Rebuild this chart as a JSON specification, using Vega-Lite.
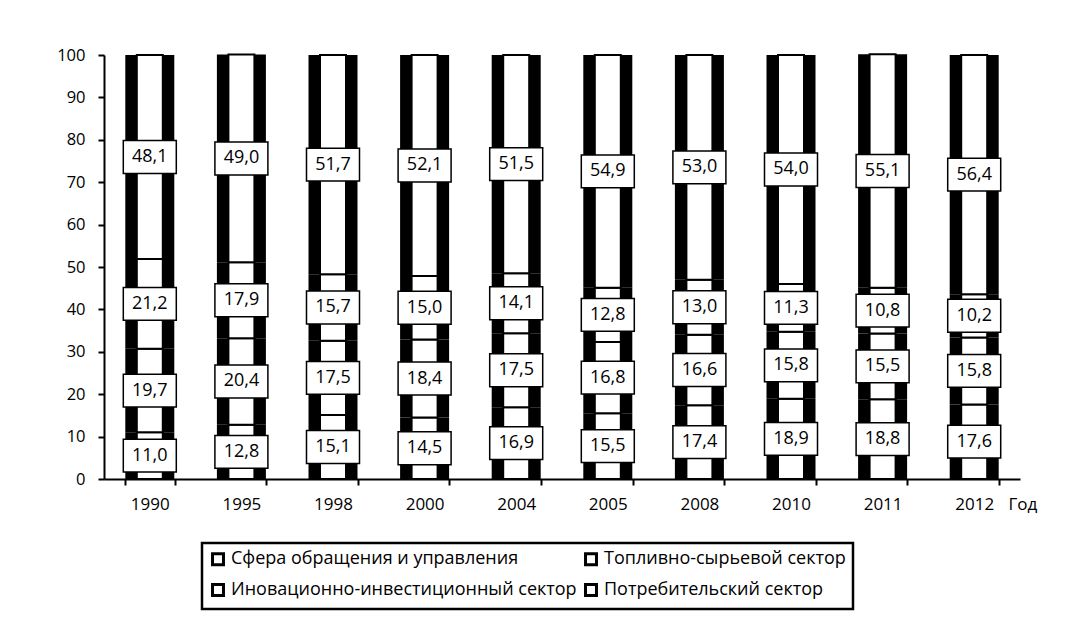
{
  "$schema": "https://vega.github.io/schema/vega-lite/v6.json",
  "width": 916,
  "height": 424,
  "autosize": {"type": "none"},
  "padding": {"left": 104, "top": 55, "right": 50, "bottom": 140},
  "background": "white",
  "config": {
    "font": "Open Sans",
    "view": {"stroke": null},
    "locale": {"number": {"decimal": ",", "thousands": " ", "grouping": [3], "currency": ["", ""]}}
  },
  "data": {
    "values": [
      {"year": "1990", "sector": "Потребительский сектор", "k": 1, "v": 11.0},
      {"year": "1990", "sector": "Иновационно-инвестиционный сектор", "k": 2, "v": 19.7},
      {"year": "1990", "sector": "Топливно-сырьевой сектор", "k": 3, "v": 21.2},
      {"year": "1990", "sector": "Сфера обращения и управления", "k": 4, "v": 48.1},
      {"year": "1995", "sector": "Потребительский сектор", "k": 1, "v": 12.8},
      {"year": "1995", "sector": "Иновационно-инвестиционный сектор", "k": 2, "v": 20.4},
      {"year": "1995", "sector": "Топливно-сырьевой сектор", "k": 3, "v": 17.9},
      {"year": "1995", "sector": "Сфера обращения и управления", "k": 4, "v": 49.0},
      {"year": "1998", "sector": "Потребительский сектор", "k": 1, "v": 15.1},
      {"year": "1998", "sector": "Иновационно-инвестиционный сектор", "k": 2, "v": 17.5},
      {"year": "1998", "sector": "Топливно-сырьевой сектор", "k": 3, "v": 15.7},
      {"year": "1998", "sector": "Сфера обращения и управления", "k": 4, "v": 51.7},
      {"year": "2000", "sector": "Потребительский сектор", "k": 1, "v": 14.5},
      {"year": "2000", "sector": "Иновационно-инвестиционный сектор", "k": 2, "v": 18.4},
      {"year": "2000", "sector": "Топливно-сырьевой сектор", "k": 3, "v": 15.0},
      {"year": "2000", "sector": "Сфера обращения и управления", "k": 4, "v": 52.1},
      {"year": "2004", "sector": "Потребительский сектор", "k": 1, "v": 16.9},
      {"year": "2004", "sector": "Иновационно-инвестиционный сектор", "k": 2, "v": 17.5},
      {"year": "2004", "sector": "Топливно-сырьевой сектор", "k": 3, "v": 14.1},
      {"year": "2004", "sector": "Сфера обращения и управления", "k": 4, "v": 51.5},
      {"year": "2005", "sector": "Потребительский сектор", "k": 1, "v": 15.5},
      {"year": "2005", "sector": "Иновационно-инвестиционный сектор", "k": 2, "v": 16.8},
      {"year": "2005", "sector": "Топливно-сырьевой сектор", "k": 3, "v": 12.8},
      {"year": "2005", "sector": "Сфера обращения и управления", "k": 4, "v": 54.9},
      {"year": "2008", "sector": "Потребительский сектор", "k": 1, "v": 17.4},
      {"year": "2008", "sector": "Иновационно-инвестиционный сектор", "k": 2, "v": 16.6},
      {"year": "2008", "sector": "Топливно-сырьевой сектор", "k": 3, "v": 13.0},
      {"year": "2008", "sector": "Сфера обращения и управления", "k": 4, "v": 53.0},
      {"year": "2010", "sector": "Потребительский сектор", "k": 1, "v": 18.9},
      {"year": "2010", "sector": "Иновационно-инвестиционный сектор", "k": 2, "v": 15.8},
      {"year": "2010", "sector": "Топливно-сырьевой сектор", "k": 3, "v": 11.3},
      {"year": "2010", "sector": "Сфера обращения и управления", "k": 4, "v": 54.0},
      {"year": "2011", "sector": "Потребительский сектор", "k": 1, "v": 18.8},
      {"year": "2011", "sector": "Иновационно-инвестиционный сектор", "k": 2, "v": 15.5},
      {"year": "2011", "sector": "Топливно-сырьевой сектор", "k": 3, "v": 10.8},
      {"year": "2011", "sector": "Сфера обращения и управления", "k": 4, "v": 55.1},
      {"year": "2012", "sector": "Потребительский сектор", "k": 1, "v": 17.6},
      {"year": "2012", "sector": "Иновационно-инвестиционный сектор", "k": 2, "v": 15.8},
      {"year": "2012", "sector": "Топливно-сырьевой сектор", "k": 3, "v": 10.2},
      {"year": "2012", "sector": "Сфера обращения и управления", "k": 4, "v": 56.4}
    ]
  },
  "transform": [
    {"stack": "v", "groupby": ["year"], "sort": [{"field": "k", "order": "ascending"}], "as": ["s0", "s1"]},
    {"calculate": "(datum.s0 + datum.s1) / 2", "as": "mid"}
  ],
  "encoding": {
    "x": {
      "field": "year",
      "type": "ordinal",
      "scale": {"paddingInner": 0.46, "paddingOuter": 0.23},
      "axis": {
        "labelAngle": 0,
        "labelFontSize": 17,
        "labelColor": "black",
        "labelPadding": 11,
        "domainColor": "black",
        "domainWidth": 2,
        "tickColor": "black",
        "tickWidth": 2,
        "tickSize": 6,
        "tickBand": "extent",
        "title": "Год",
        "titleFontSize": 17,
        "titleFontWeight": "normal",
        "titleColor": "black",
        "titleAlign": "left",
        "titleBaseline": "top",
        "titleX": 904,
        "titleY": 17
      }
    }
  },
  "layer": [
    {
      "mark": {"type": "bar", "size": 49, "fill": "black"},
      "encoding": {
        "y": {
          "field": "s0",
          "type": "quantitative",
          "scale": {"domain": [0, 100], "nice": false},
          "axis": {
            "title": null,
            "values": [0, 10, 20, 30, 40, 50, 60, 70, 80, 90, 100],
            "grid": false,
            "labelFontSize": 16.5,
            "labelColor": "black",
            "labelPadding": 13,
            "domainColor": "black",
            "domainWidth": 2,
            "tickColor": "black",
            "tickWidth": 2,
            "tickSize": 6
          }
        },
        "y2": {"field": "s1"}
      }
    },
    {
      "mark": {"type": "bar", "size": 26, "stroke": "black", "strokeWidth": 2},
      "encoding": {
        "y": {"field": "s0", "type": "quantitative"},
        "y2": {"field": "s1"},
        "color": {
          "field": "sector",
          "type": "nominal",
          "scale": {
            "domain": ["Сфера обращения и управления", "Топливно-сырьевой сектор", "Иновационно-инвестиционный сектор", "Потребительский сектор"],
            "range": ["white", "white", "white", "white"]
          },
          "legend": {
            "title": null,
            "orient": "none",
            "legendX": 98,
            "legendY": 488,
            "columns": 2,
            "direction": "horizontal",
            "symbolType": "square",
            "symbolSize": 120,
            "symbolStrokeColor": "black",
            "symbolStrokeWidth": 3,
            "labelFontSize": 18,
            "labelColor": "black",
            "labelLimit": 400,
            "labelOffset": 4,
            "rowPadding": 7,
            "columnPadding": 2,
            "padding": 7,
            "strokeColor": "black",
            "fillColor": "white",
            "encode": {
              "legend": {
                "update": {
                  "strokeWidth": {"value": 2.5}
                }
              }
            }
          }
        }
      }
    },
    {
      "mark": {
        "type": "point",
        "shape": "M-1,-0.62L1,-0.62L1,0.62L-1,0.62Z",
        "size": 2809,
        "filled": true,
        "fill": "white",
        "stroke": "black",
        "strokeWidth": 1.5,
        "opacity": 1
      },
      "encoding": {
        "y": {"field": "mid", "type": "quantitative"}
      }
    },
    {
      "mark": {"type": "text", "fontSize": 18, "color": "black"},
      "encoding": {
        "y": {"field": "mid", "type": "quantitative"},
        "text": {"field": "v", "type": "quantitative", "format": ".1f"}
      }
    }
  ]
}
